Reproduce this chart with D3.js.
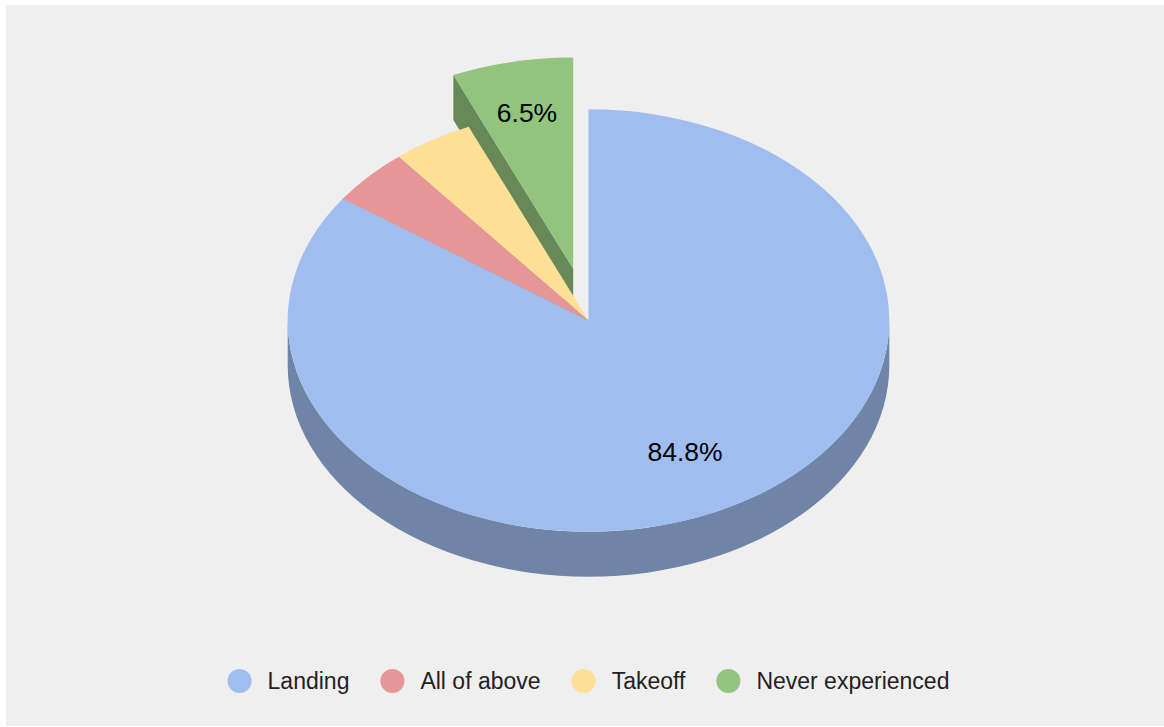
<!DOCTYPE html>
<html>
<head>
<meta charset="utf-8">
<script src="https://cdn.jsdelivr.net/npm/d3@7"></script>
<style>
  html, body { margin: 0; padding: 0; background: #ffffff; }
  svg { display: block; }
</style>
</head>
<body>
<svg id="chart" width="1164" height="727"></svg>
<script>
// Survey answers: when the discomfort is experienced
const categories = ["Landing", "All of above", "Takeoff", "Never experienced"];
const counts = [39, 2, 2, 3];
const sliceColors = ["#a0bdef", "#e69696", "#fde095", "#93c47d"];
const explodedSlice = ["Never experienced"];

const W = 1164, H = 727;
const FONT = "'Liberation Sans', Arial, Helvetica, sans-serif";

// Tilted-disc geometry
const cx = 588.5, cy = 320.5;   // centre of the top face
const rx = 300.8, ry = 211.2;   // projected radii of the top face
const depth = 45;               // thickness of the disc
const explodeFrac = 0.25;       // pull-out distance as a fraction of the radius

const svg = d3.select("#chart");

// panel background
svg.append("rect")
  .attr("x", 6).attr("y", 5)
  .attr("width", W - 6).attr("height", 721)
  .attr("fill", "#efefef");

const total = d3.sum(counts);
const pct = d3.format(".1%");
const color = d3.scaleOrdinal().domain(categories).range(sliceColors);

const arcs = d3.pie().sort(null).value(d => d.value)(
  categories.map((c, i) => ({ name: c, value: counts[i] }))
);

// point on the projected ellipse, angle measured clockwise from 12 o'clock
function pt(a, ox, oy, dz = 0) {
  return [ox + rx * Math.sin(a), oy - ry * Math.cos(a) + dz];
}

const slices = arcs.map(a => {
  const mid = (a.startAngle + a.endAngle) / 2;
  const off = explodedSlice.includes(a.data.name) ? explodeFrac : 0;
  return {
    ...a,
    mid,
    ox: cx + rx * off * Math.sin(mid),
    oy: cy - ry * off * Math.cos(mid),
    exploded: off > 0
  };
});

// paint the slices furthest from the viewer first
const order = slices.slice().sort((p, q) => Math.cos(q.mid) - Math.cos(p.mid));

const g = svg.append("g");

order.forEach(s => {
  const top = color(s.data.name);
  const side = d3.rgb(top).darker(1).formatHex();
  const a0 = s.startAngle, a1 = s.endAngle;

  // radial walls facing the viewer
  const wall = a => {
    const p = pt(a, s.ox, s.oy);
    return `M${s.ox},${s.oy}L${p[0]},${p[1]}L${p[0]},${p[1] + depth}L${s.ox},${s.oy + depth}Z`;
  };
  if (Math.sin(a0) < -1e-6) g.append("path").attr("d", wall(a0)).attr("fill", side);
  if (Math.sin(a1) > 1e-6) g.append("path").attr("d", wall(a1)).attr("fill", side);

  // outer rim on the front half of the disc
  const rs = Math.max(a0, Math.PI / 2), re = Math.min(a1, 3 * Math.PI / 2);
  if (re > rs) {
    const p0 = pt(rs, s.ox, s.oy), p1 = pt(re, s.ox, s.oy);
    const large = (re - rs) > Math.PI ? 1 : 0;
    g.append("path")
      .attr("d",
        `M${p0[0]},${p0[1]}A${rx},${ry} 0 ${large} 1 ${p1[0]},${p1[1]}` +
        `L${p1[0]},${p1[1] + depth}A${rx},${ry} 0 ${large} 0 ${p0[0]},${p0[1] + depth}Z`)
      .attr("fill", side);
  }

  // top face
  const p0 = pt(a0, s.ox, s.oy), p1 = pt(a1, s.ox, s.oy);
  const large = (a1 - a0) > Math.PI ? 1 : 0;
  g.append("path")
    .attr("d", `M${s.ox},${s.oy}L${p0[0]},${p0[1]}A${rx},${ry} 0 ${large} 1 ${p1[0]},${p1[1]}Z`)
    .attr("fill", top);
});

// percentage labels on the slices large enough to hold them
slices.filter(s => s.value / total >= 0.05).forEach(s => {
  const k = s.exploded ? 0.755 : 0.698;
  const p = [s.ox + rx * k * Math.sin(s.mid), s.oy - ry * k * Math.cos(s.mid)];
  svg.append("text")
    .attr("x", p[0]).attr("y", p[1])
    .attr("dy", "0.36em")
    .attr("text-anchor", "middle")
    .attr("font-family", FONT)
    .attr("font-size", 26.5)
    .attr("fill", "#000")
    .text(pct(s.value / total));
});

// legend along the bottom, centred under the disc
const legend = svg.append("g").attr("transform", "translate(0,681)");
const items = legend.selectAll("g.item").data(categories).join("g").attr("class", "item");
items.append("circle").attr("r", 12).attr("cx", 12).attr("cy", 0).attr("fill", d => color(d));
items.append("text")
  .attr("x", 40).attr("y", 0).attr("dy", "0.35em")
  .attr("font-family", FONT).attr("font-size", 23)
  .attr("fill", "#222")
  .text(d => d);

let xpos = 0;
const gap = 31;
const widths = [];
items.each(function () {
  const w = 40 + d3.select(this).select("text").node().getComputedTextLength();
  widths.push(w);
});
const totalW = d3.sum(widths) + gap * (widths.length - 1);
let start = cx - totalW / 2;
items.attr("transform", (d, i) => {
  const x = start + xpos;
  xpos += widths[i] + gap;
  return `translate(${x},0)`;
});
</script>
</body>
</html>
